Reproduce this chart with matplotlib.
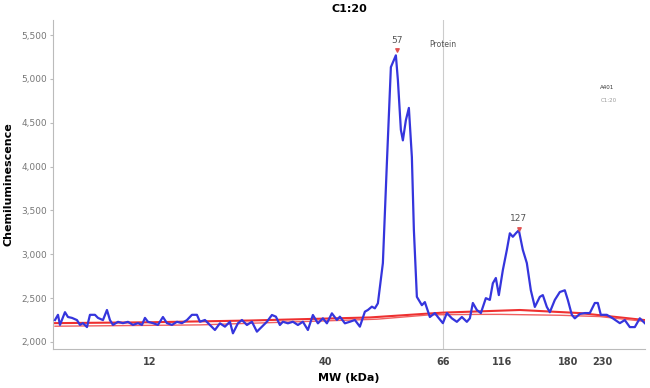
import matplotlib.pyplot as plt

# electropherogram trace, x = migration position (axis units), y = chemiluminescence
pos = [55, 58, 60, 65, 68, 72, 77, 80, 83, 87, 90, 95, 98, 103, 107, 110, 113, 118, 123, 128,
       133, 138, 142, 145, 148, 153, 158, 163, 167, 172, 177, 182, 187, 192, 197,
       200, 205, 210, 215, 220, 225, 230, 233, 238, 242, 247, 252, 257, 262, 267, 272, 276,
       280, 283, 288, 293, 298, 303, 308, 313, 318, 323, 327, 332, 337, 340, 345, 350, 355,
       360, 365, 368, 372, 375, 378,
       380, 383, 387, 391, 393, 396, 398, 401, 403, 406, 409, 412, 414, 417, 422, 425, 430,
       435, 438, 443, 447, 452, 457, 462, 467, 470, 473, 477, 481, 486, 490, 493, 496, 499,
       503, 507, 510, 513, 516, 519, 523, 527, 531, 535, 540, 543, 547, 550, 555, 560, 565,
       568, 572, 575, 580, 585, 590, 595, 598, 601, 607, 613, 620, 625, 630, 635, 640, 645]
signal = [2250, 2310, 2195, 2340, 2285, 2275, 2250, 2195, 2215, 2170, 2310, 2310, 2275, 2250, 2365,
          2250, 2195, 2230, 2215, 2230, 2195, 2215, 2195, 2275, 2230, 2215, 2195, 2285, 2215, 2195,
          2230, 2215, 2250, 2310, 2310,
          2231, 2251, 2194, 2137, 2213, 2175, 2231, 2099, 2213, 2251, 2194, 2231, 2118, 2175, 2231,
          2308, 2289, 2194, 2231, 2213, 2231, 2194, 2231, 2137, 2308, 2213, 2270, 2213, 2327, 2251,
          2289, 2213, 2231, 2251, 2175, 2346, 2365, 2403, 2384, 2441,
          2627, 2900, 4040, 5135, 5190, 5270, 4990, 4420, 4300, 4530, 4670, 4110, 3280, 2515, 2420,
          2455, 2285, 2330, 2285, 2215, 2330, 2270, 2230, 2285, 2230, 2270, 2445, 2365, 2330, 2500,
          2480, 2670, 2730, 2535, 2820, 3050, 3240, 3200, 3240, 3275, 3050, 2900, 2590, 2400, 2515,
          2535, 2400, 2340, 2480, 2570, 2590, 2480, 2310, 2270, 2320, 2330, 2330, 2445, 2445, 2310,
          2310, 2270, 2215, 2250, 2170, 2170, 2270, 2215]

# fitted baselines
fit_pos = [55, 150, 250, 370, 443, 520, 580, 645]
fit_val = [2215, 2225, 2245, 2280, 2335, 2365, 2330, 2250]
base_pos = [55, 200, 377, 430, 480, 500, 560, 600, 645]
base_val = [2180, 2195, 2260, 2310, 2315, 2315, 2305, 2290, 2235]

# peaks
peak_pos = [397, 519]
peak_val = [5330, 3290]
peak_labels = ['57', '127']

mw_ticks = [150, 325, 443, 502, 568, 603]
mw_labels = ['12', '40', '66', '116', '180', '230']
protein_pos = 443

fig = plt.figure(figsize=(6.5, 3.88), dpi=100)
ax = fig.add_axes([0.0815, 0.1005, 0.9105, 0.8475])

ax.plot(fit_pos, fit_val, color='#ee3030', lw=1.5, zorder=2)
ax.plot(base_pos, base_val, color='#f06060', lw=1.0, zorder=2)
ax.plot(pos, signal, color='#3535dd', lw=1.6, zorder=3)
ax.axvline(protein_pos, color='#cccccc', lw=0.8, zorder=1)

ax.scatter(peak_pos, peak_val, s=6, marker='v', color='#e05050', zorder=4)
for x, y, lab in zip(peak_pos, peak_val, peak_labels):
    ax.annotate(lab, (x, y), xytext=(0, 4), textcoords='offset points',
                ha='center', va='bottom', fontsize=6.5, color='#555555')
ax.text(protein_pos, 5390, 'Protein', ha='center', va='center', fontsize=5.5, color='#555555')

ax.text(0.925, 0.79, 'A401', transform=ax.transAxes, fontsize=4, color='#333333')
ax.text(0.925, 0.75, 'C1:20', transform=ax.transAxes, fontsize=4, color='#999999')

ax.set_xlim(53, 645)
ax.set_ylim(1920, 5671)
ax.set_yticks([2000, 2500, 3000, 3500, 4000, 4500, 5000, 5500])
ax.set_yticklabels([f'{v:,}' for v in ax.get_yticks()], fontsize=6.5, color='#777777')
ax.set_xticks(mw_ticks)
ax.set_xticklabels(mw_labels, fontsize=7, color='#444444', fontweight='bold')
ax.tick_params(axis='y', length=2, color='#bbbbbb', pad=2)
ax.tick_params(axis='x', length=0, pad=6)

for s in ['top', 'right']:
    ax.spines[s].set_visible(False)
for s in ['left', 'bottom']:
    ax.spines[s].set_color('#bbbbbb')
    ax.spines[s].set_linewidth(0.8)

ax.set_xlabel('MW (kDa)', fontsize=8, fontweight='bold', labelpad=4)
ax.set_ylabel('Chemiluminescence', fontsize=8, fontweight='bold', labelpad=6)
ax.set_title('C1:20', fontsize=8, fontweight='bold', pad=6)

fig.savefig('out.png', dpi=100)
